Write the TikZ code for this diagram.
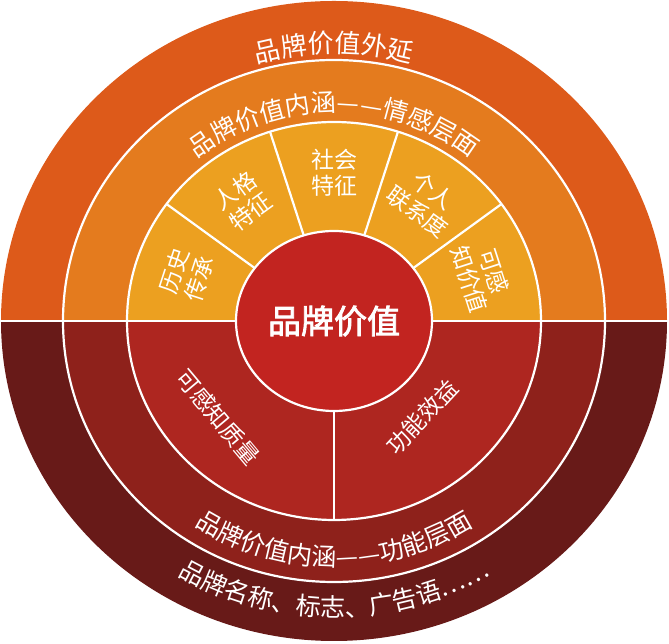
\documentclass[tikz,border=0pt]{standalone}
\usepackage{fontspec}
\usetikzlibrary{decorations.text,shapes.geometric}
\newfontfamily\cjk{Noto Sans CJK SC}
\newfontfamily\cjkb[FakeBold=2.5]{Noto Sans CJK SC}
\definecolor{otop}{HTML}{DD5A1A}
\definecolor{obot}{HTML}{681A18}
\definecolor{mtop}{HTML}{E47B1E}
\definecolor{mbot}{HTML}{8E211B}
\definecolor{itop}{HTML}{ECA020}
\definecolor{ibot}{HTML}{AE2620}
\definecolor{ctr}{HTML}{C22420}
\tikzset{
  wline/.style={draw=white,line width=2.2pt},
  sectxt/.style={text=white,font=\cjk\fontsize{23}{26}\selectfont,align=center,inner sep=0pt}
}
\begin{document}
\begin{tikzpicture}[x=1pt,y=1pt]
\useasboundingbox (0,0) rectangle (669,644);
\begin{scope}[shift={(334,323)}]
\fill[otop] (333,0) arc[start angle=0,end angle=180,x radius=333,y radius=320] -- cycle;
\fill[obot] (333,0) arc[start angle=0,end angle=-180,x radius=333,y radius=320] -- cycle;
\fill[mtop] (271,0) arc[start angle=0,end angle=180,x radius=271,y radius=261] -- cycle;
\fill[mbot] (271,0) arc[start angle=0,end angle=-180,x radius=271,y radius=261] -- cycle;
\fill[itop] (207,0) arc[start angle=0,end angle=180,x radius=207,y radius=199] -- cycle;
\fill[ibot] (207,0) arc[start angle=0,end angle=-180,x radius=207,y radius=199] -- cycle;
\draw[wline] (0,0) ellipse[x radius=271,y radius=261];
\draw[wline] (0,0) ellipse[x radius=207,y radius=199];
\draw[wline] (-334,0) -- (334,0);
\foreach \a in {144,108,72,36}
  \draw[wline] (\a:98 and 90) -- (\a:207 and 199);
\draw[wline] (0,-90) -- (0,-199);
\node[ellipse,fill=ctr,wline,minimum width=196pt,minimum height=180pt,inner sep=0pt] (c) at (0,0) {};
\node[text=white,font=\cjkb\fontsize{33}{33}\selectfont] (ct) at (0,0) {品牌价值};
\path[decorate,decoration={text along path,text align=center,
  text={|\cjk\fontsize{26}{26}\selectfont\color{white}|品牌价值外延}}]
  (130:279 and 268) arc[start angle=130,end angle=50,x radius=279,y radius=268];
\path[decorate,decoration={text along path,text align=center,
  text={|\cjk\fontsize{25}{25}\selectfont\color{white}|品牌价值内涵——情感层面}}]
  (160:218 and 209) arc[start angle=160,end angle=20,x radius=218,y radius=209];
\path[decorate,decoration={text along path,text align=center,
  text={|\cjk\fontsize{25}{25}\selectfont\color{white}|品牌价值内涵——功能层面}}]
  (200:254 and 245) arc[start angle=200,end angle=340,x radius=254,y radius=245];
\path[decorate,decoration={text along path,text align=center,
  text={|\cjk\fontsize{25}{25}\selectfont\color{white}|品牌名称、标志、广告语……}}]
  (220:306 and 296) arc[start angle=220,end angle=320,x radius=306,y radius=296];
\node[sectxt,rotate=72] (s1) at (162:155 and 148) {历史\\传承};
\node[sectxt,rotate=36] (s2) at (126:155 and 148) {人格\\特征};
\node[sectxt] (s3) at (90:155 and 148) {社会\\特征};
\node[sectxt,rotate=-36] (s4) at (54:155 and 148) {个人\\联系度};
\node[sectxt,rotate=-72] (s5) at (18:155 and 148) {可感\\知价值};
\node[sectxt,rotate=-50] (b1) at (-116,-96) {可感知质量};
\node[sectxt,rotate=47] (b2) at (88,-96) {功能效益};
\end{scope}
\end{tikzpicture}
\end{document}
